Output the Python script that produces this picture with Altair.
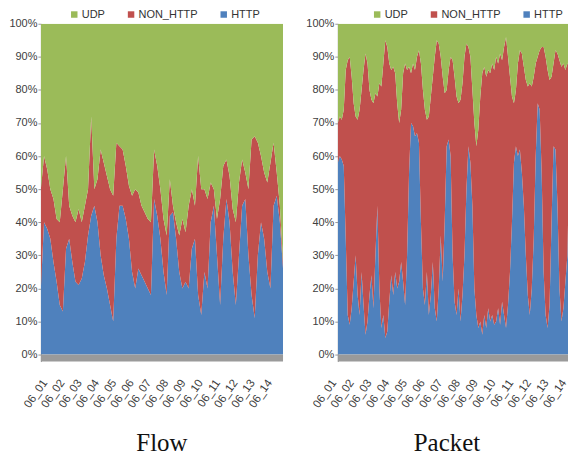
import altair as alt
import pandas as pd

# ---------------- data ----------------
day_labels = ["06_01", "06_02", "06_03", "06_04", "06_05", "06_06", "06_07",
              "06_08", "06_09", "06_10", "06_11", "06_12", "06_13", "06_14"]
series = ["UDP", "NON_HTTP", "HTTP"]
colors = ["#9BBB59", "#C0504D", "#4F81BD"]
y_ticks = [0, 10, 20, 30, 40, 50, 60, 70, 80, 90, 100]

# Flow: upper edge of HTTP (blue) and of HTTP+NON_HTTP (red), in %
flow_http_top = [20, 40, 38, 35, 28, 22, 15, 13, 32, 35, 28, 22, 21, 23, 28, 36, 42, 45, 40, 30, 24, 20, 15, 10, 35, 45,
                 45, 41, 35, 25, 20, 26, 24, 22, 20, 18, 47, 42, 35, 25, 18, 42, 43, 35, 25, 20, 22, 20, 32, 35, 18, 12,
                 25, 20, 40, 45, 30, 15, 35, 47, 40, 25, 15, 30, 45, 47, 30, 18, 11, 30, 40, 35, 25, 20, 45, 48, 40, 26]
flow_total_top = [50, 60, 56, 50, 47, 41, 40, 50, 60, 45, 42, 40, 44, 40, 45, 50, 72, 50, 53, 62, 58, 54, 50, 48, 64, 63,
                  62, 57, 51, 48, 50, 49, 45, 43, 41, 40, 62, 57, 50, 41, 36, 53, 45, 40, 36, 41, 37, 45, 50, 45, 60, 50,
                  50, 47, 52, 50, 41, 47, 57, 59, 54, 44, 40, 52, 59, 55, 50, 65, 66, 64, 60, 55, 52, 58, 64, 55, 45, 28]

# Packet (the visible part; the panel is cut at the right edge)
packet_http_top = [58, 60, 59, 57, 35, 12, 9, 14, 22, 30, 18, 12, 25, 15, 6, 10, 18, 24, 14, 30, 45, 20, 8, 12, 5, 7, 16, 24, 18, 25, 20, 22, 28, 22, 15, 30, 55, 70, 69, 66,
                   67, 64, 40, 20, 15, 25, 12, 18, 28, 14, 10, 20, 36, 22, 40, 63, 65, 60, 30, 16, 12, 20, 10, 18, 30, 50, 63, 58, 45, 20, 12, 8, 10, 6, 12, 8, 14, 10, 12, 9,
                   10, 14, 9, 16, 12, 8, 15, 25, 40, 58, 63, 60, 62, 55, 45, 30, 18, 12, 20, 35, 60, 76, 74, 55, 25, 12, 8, 15, 40, 63, 62, 45, 20, 10, 14, 22, 30, 60, 71, 70]
packet_total_top = [70, 72, 71, 74, 86, 89, 90, 84, 76, 72, 71, 74, 80, 86, 91, 88, 80, 77, 76, 79, 78, 82, 81, 88, 95, 93, 88, 86, 87, 85, 76, 70, 74, 85, 88, 86, 87, 85, 88, 86,
                    90, 92, 88, 80, 74, 71, 72, 78, 84, 90, 95, 94, 90, 84, 79, 80, 86, 90, 89, 84, 78, 76, 77, 82, 90, 94, 93, 90, 80, 70, 63, 68, 78, 85, 87, 84, 86, 85, 88, 86,
                    90, 88, 91, 89, 93, 96, 90, 84, 78, 76, 80, 88, 92, 91, 87, 83, 81, 82, 81, 84, 88, 90, 92, 93, 93, 90, 86, 83, 84, 88, 92, 91, 89, 87, 88, 86, 88, 87, 89, 88]

N_DAYS = len(day_labels)
FLOW_SPAN = 14.0      # days covered by the flow readings
PACKET_SPAN = 13.3    # days covered by the visible packet readings
PACKET_VIEW = 13.0    # days visible in the packet panel


def long_table(http_top, total_top, span):
    n = len(http_top)
    rows = []
    for i, (h, t) in enumerate(zip(http_top, total_top)):
        x = i * span / (n - 1)
        rows.append({"t": x, "series": "HTTP", "lo": 0, "hi": h})
        rows.append({"t": x, "series": "NON_HTTP", "lo": h, "hi": t})
        rows.append({"t": x, "series": "UDP", "lo": t, "hi": 100})
    return pd.DataFrame(rows)


SANS = "Liberation Sans, Arial, sans-serif"
SERIF = "Liberation Serif, Times New Roman, serif"
label_expr = "[" + ",".join("'%s'" % d for d in day_labels) + "][datum.value]"
Y_MIN = -2.1


def panel(df, width, view_days, title, title_x, legend_x, label_off):
    x = alt.X("t:Q",
              scale=alt.Scale(domain=[0, view_days], nice=False, zero=False),
              axis=alt.Axis(values=list(range(N_DAYS)), tickCount=40, labelExpr=label_expr,
                            labelAngle=-55, labelAlign="right", labelBaseline="middle",
                            labelFont=SANS, labelFontSize=11.5, labelColor="#404040",
                            labelPadding=19, labelOffset=label_off, labelOverlap=False,
                            labelFlush=False, labelBound=False,
                            ticks=False, domain=False, grid=False,
                            title=title, titleFont=SERIF, titleFontSize=25,
                            titleFontWeight="normal", titleColor="#111111",
                            titleX=title_x, titleY=89, titleBaseline="alphabetic"))
    y = alt.Y("hi:Q",
              scale=alt.Scale(domain=[Y_MIN, 100], nice=False, zero=False),
              axis=alt.Axis(values=y_ticks, tickCount=20, labelExpr="datum.value + '%'",
                            labelFont=SANS, labelFontSize=11, labelColor="#404040",
                            labelPadding=1, tickSize=3, tickColor="#9a9a9a",
                            domainColor="#9a9a9a", grid=False, title=None))
    area = alt.Chart(df).mark_area(interpolate="linear", clip=True).encode(
        x=x, y=y, y2="lo:Q",
        color=alt.Color("series:N",
                        scale=alt.Scale(domain=series, range=colors),
                        legend=alt.Legend(orient="none", legendX=legend_x, legendY=-15,
                                          direction="horizontal", title=None,
                                          symbolType="square", symbolSize=42,
                                          symbolStrokeWidth=0, symbolOpacity=1,
                                          labelFont=SANS, labelFontSize=11,
                                          labelColor="#333333", labelOffset=2,
                                          columnPadding=20)),
    )
    floor = alt.Chart(pd.DataFrame({"a": [0]})).mark_rect(color="#9a9a9a").encode(
        x=alt.datum(0), x2=alt.datum(view_days), y=alt.datum(Y_MIN), y2=alt.datum(0)
    )
    return alt.layer(area, floor).properties(width=width, height=339)


left = panel(long_table(flow_http_top, flow_total_top, FLOW_SPAN), 243, N_DAYS,
             "Flow", 121, 28, 4)
right = panel(long_table(packet_http_top, packet_total_top, PACKET_SPAN), 231, PACKET_VIEW,
              "Packet", 109, 34, -4)

chart = (
    alt.hconcat(left, right, spacing=22)
    .resolve_legend(color="independent")
    .properties(padding=0)
    .configure_view(strokeWidth=0)
    .configure_axisX(labelOverlap=False)
)

chart.save("out.html", embed_options={"renderer": "svg", "actions": False})
